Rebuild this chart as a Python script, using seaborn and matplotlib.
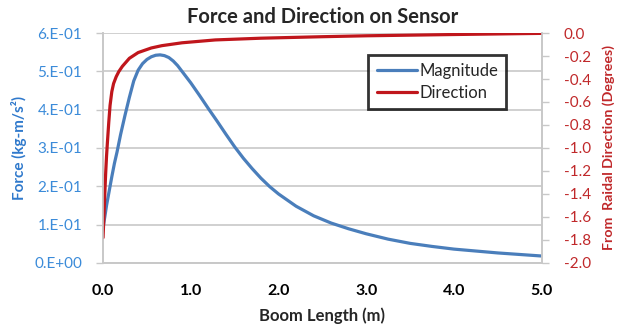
import numpy as np
import pandas as pd
import seaborn as sns
import matplotlib.pyplot as plt
import matplotlib.ticker as ticker

# Magnitude of force (left axis)
mag_x = [0.0, 0.02, 0.04, 0.06, 0.08, 0.10, 0.13, 0.16, 0.20, 0.25, 0.30, 0.35,
         0.40, 0.45, 0.50, 0.55, 0.60, 0.65, 0.70, 0.75, 0.80, 0.85, 0.90, 1.0,
         1.1, 1.2, 1.3, 1.4, 1.5, 1.6, 1.7, 1.8, 1.9, 2.0, 2.2, 2.4, 2.6, 2.8,
         3.0, 3.25, 3.5, 3.75, 4.0, 4.5, 5.0]
mag_y = [0.092, 0.12, 0.15, 0.175, 0.20, 0.225, 0.26, 0.29, 0.335, 0.385, 0.432, 0.475,
         0.503, 0.520, 0.531, 0.538, 0.542, 0.543, 0.541, 0.536, 0.527, 0.515, 0.500, 0.470,
         0.437, 0.403, 0.370, 0.336, 0.303, 0.273, 0.246, 0.221, 0.199, 0.180, 0.148, 0.123, 0.104, 0.089,
         0.076, 0.062, 0.051, 0.043, 0.036, 0.026, 0.018]

# Direction from radial (right axis, degrees)
dir_x = [0.0, 0.01, 0.02, 0.03, 0.04, 0.05, 0.065, 0.08, 0.10, 0.12, 0.15, 0.18,
         0.22, 0.30, 0.40, 0.55, 0.67, 0.9, 1.28, 1.8, 2.5, 3.0, 4.0, 5.0]
dir_y = [-1.78, -1.60, -1.40, -1.22, -1.07, -0.95, -0.78, -0.63, -0.51, -0.44, -0.38, -0.335,
         -0.29, -0.22, -0.17, -0.13, -0.11, -0.085, -0.06, -0.045, -0.032, -0.024, -0.013, -0.003]

BLUE_LINE = "#4a7ebb"
RED_LINE = "#c0161c"
BLUE_TXT = "#3b8bd9"
RED_TXT = "#c0282a"
GRID = "#c8c8c8"


def main():
    sns.set_style("white")
    plt.rcParams['font.family'] = ['Lato', 'DejaVu Sans']

    fig = plt.figure(figsize=(6.17, 3.27), dpi=100)
    ax = fig.add_axes([0.167, 0.196, 0.711, 0.703])
    ax2 = ax.twinx()

    mag = pd.DataFrame({"x": mag_x, "y": mag_y})
    direc = pd.DataFrame({"x": dir_x, "y": dir_y})

    sns.lineplot(data=mag, x="x", y="y", ax=ax, color=BLUE_LINE, lw=2.3, sort=False)
    sns.lineplot(data=direc, x="x", y="y", ax=ax2, color=RED_LINE, lw=2.3, sort=False)

    # left axis
    ax.set_xlim(0, 5)
    ax.set_ylim(0, 0.6)
    ax.yaxis.set_major_locator(ticker.MultipleLocator(0.1))
    ax.xaxis.set_major_locator(ticker.MultipleLocator(1.0))
    ax.yaxis.set_major_formatter(ticker.FuncFormatter(
        lambda v, p: "0.E+00" if abs(v) < 1e-9 else f"{round(v * 10):d}.E-01"))
    ax.xaxis.set_major_formatter(ticker.FormatStrFormatter("%.1f"))
    ax.grid(axis="y", color=GRID, lw=1.2)
    ax.set_axisbelow(True)
    ax.tick_params(axis="y", colors=GRID, labelcolor=BLUE_TXT, labelsize=11,
                   direction="out", length=5, width=1, pad=10)
    ax.tick_params(axis="x", colors=GRID, labelcolor="black", labelsize=11.5,
                   direction="out", length=5, width=1, pad=10)
    for t in ax.get_xticklabels():
        t.set_fontweight("bold")
    ax.set_xlabel("Boom Length (m)", fontsize=12, fontweight="bold", labelpad=7)
    ax.set_ylabel("Force (kg-m/s²)", fontsize=11, fontweight="bold", color="#2f79cc", labelpad=5)

    # right axis
    ax2.set_ylim(-2.0, 0.0)
    ax2.yaxis.set_major_locator(ticker.MultipleLocator(0.2))
    ax2.yaxis.set_major_formatter(ticker.FormatStrFormatter("%.1f"))
    ax2.tick_params(axis="y", colors=GRID, labelcolor=RED_TXT, labelsize=11,
                    direction="out", length=5, width=1, pad=11)
    ax2.set_ylabel("From  Raidal Direction (Degrees)", fontsize=10.2, fontweight="bold",
                   color=RED_TXT, labelpad=8)
    ax2.set_xlabel("")

    for a in (ax, ax2):
        for side in ("left", "right", "bottom"):
            a.spines[side].set_color(GRID)
            a.spines[side].set_linewidth(1.2)
        a.spines["top"].set_visible(False)

    ax.set_title("Force and Direction on Sensor", fontsize=14.5, fontweight="bold", pad=7)

    handles = [ax.get_lines()[0], ax2.get_lines()[0]]
    leg = ax2.legend(handles, ["Magnitude", "Direction"], loc="upper left",
                     bbox_to_anchor=(0.605, 0.905), frameon=True, fancybox=False,
                     fontsize=12, handlelength=2.4, handletextpad=0.15,
                     borderpad=0.5, labelspacing=0.35, borderaxespad=0)
    leg.get_frame().set_edgecolor("black")
    leg.get_frame().set_linewidth(2)

    fig.savefig("out.png", dpi=100)


if __name__ == '__main__':
    main()
